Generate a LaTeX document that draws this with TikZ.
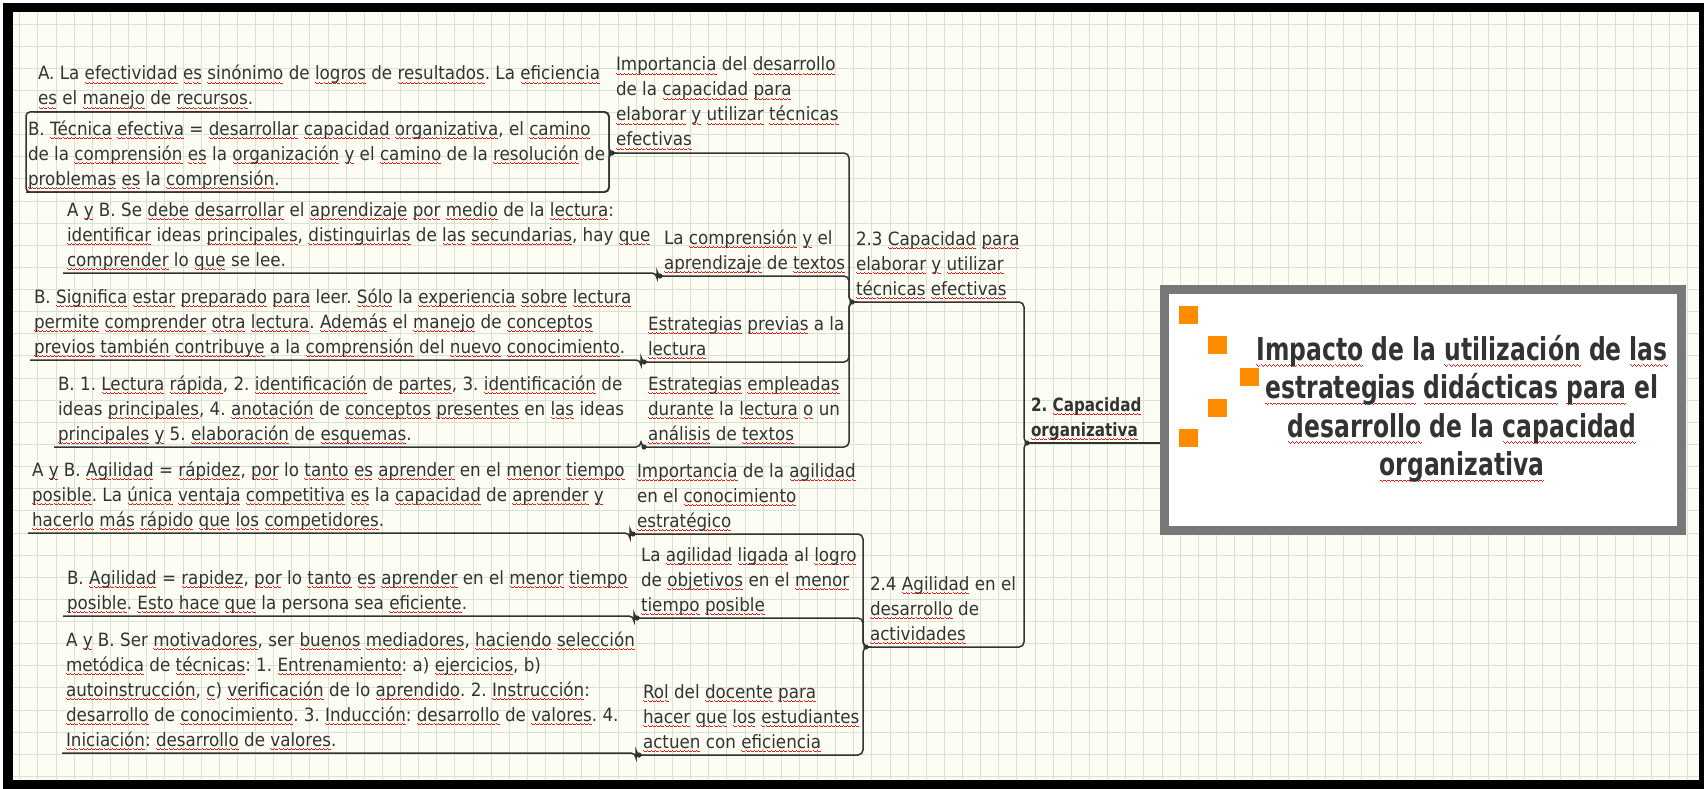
\documentclass[tikz,border=0pt]{standalone}
\usepackage{fontspec}
\setmainfont[FakeStretch=0.915]{DejaVu Sans}
\newfontfamily\capfamily[FakeStretch=0.83]{DejaVu Sans}
\newfontfamily\ttlfamily[FakeStretch=0.745]{DejaVu Sans}
\frenchspacing
\definecolor{paper}{HTML}{FDFDF3}
\definecolor{gridc}{HTML}{D8E2D8}
\definecolor{ink}{HTML}{333333}
\definecolor{framec}{HTML}{787878}
\definecolor{orng}{HTML}{FF8C00}
\definecolor{spell}{HTML}{E8201A}
\newlength\sqdrop
\setlength\sqdrop{3pt}
\newcommand\waveunit{\hbox{\rule[0pt]{1pt}{0.9pt}\rule[-0.6pt]{1pt}{0.9pt}\rule[-1.2pt]{1pt}{0.9pt}\rule[-0.6pt]{1pt}{0.9pt}}}
\newcommand\sq[1]{\setbox0\hbox{#1}\rlap{\lower\sqdrop\hbox to\wd0{\color{spell}\xleaders\waveunit\hfil}}\box0\relax}
\newcommand\ud{\rule[-7pt]{0pt}{7pt}}
\newcommand\bodyfnt{\frenchspacing\fontsize{18.3}{25}\selectfont}
\newcommand\capfnt{\frenchspacing\capfamily\bfseries\fontsize{18.3}{25}\selectfont}
\newcommand\ttlfnt{\ttlfamily\bfseries\fontsize{31.5}{38.5}\selectfont\setlength\sqdrop{5pt}}
\newcommand\tielink[2]{\draw[conn] (#1.south west) -| (#2-j) -- (#2.south west);}
\newcommand\topicdot[1]{\fill[ink] (#1.south west) circle (2.6pt);}
\begin{document}
\begin{tikzpicture}[x=1pt,y=-1pt,
  topic/.style={inner xsep=4pt, inner ysep=0pt, outer sep=0pt, anchor=south west, align=left, text=ink, font=\bodyfnt},
  captopic/.style={topic, font=\capfnt},
  conn/.style={draw=ink, line width=1.5pt, rounded corners=5pt},
  sqr/.style={fill=orng}]
\useasboundingbox (0,0) rectangle (1704,789);
% frame and paper
\fill[white] (0,0) rectangle (1704,789);
\fill[black] (3,3) rectangle (1704,789);
\fill[paper] (13,12) rectangle (1699,780);
\begin{scope}
\clip (13,12) rectangle (1699,780);
\foreach \i in {0,...,94} {\draw[gridc, line width=1pt] (1.7+\i*18.13,12) -- (1.7+\i*18.13,780);}
\foreach \j in {0,...,35} {\draw[gridc, line width=1pt] (13,1.9+\j*22.13) -- (1699,1.9+\j*22.13);}
\end{scope}

% central topic
\node[draw=framec, line width=9pt, fill=white, minimum width=517pt, minimum height=241pt,
      inner sep=0pt, outer sep=4.5pt, anchor=north west] (central) at (1160,285) {};
\fill[sqr] (1179,306) rectangle ++(19,18);
\fill[sqr] (1208,336) rectangle ++(19,18);
\fill[sqr] (1240,368) rectangle ++(19,18);
\fill[sqr] (1208,399) rectangle ++(19,18);
\fill[sqr] (1179,429) rectangle ++(19,18);
\node[inner sep=0pt, anchor=north, align=center, text=ink, font=\ttlfnt] (title) at (1462,330)
 {\rule{0pt}{30pt}\sq{Impacto} de la \sq{utilización} de \sq{las}\\
  \sq{estrategias} \sq{didácticas} \sq{para} el\\
  \sq{desarrollo} de la \sq{capacidad}\\
  \sq{organizativa}};

% main topics
\node[captopic] (cap) at (1027,443) {2. \sq{Capacidad}\\\sq{organizativa}\ud};
\node[topic] (s23) at (852,302) {2.3 \sq{Capacidad} \sq{para}\\\sq{elaborar} \sq{y} \sq{utilizar}\\\sq{técnicas} \sq{efectivas}\ud};
\node[topic] (s24) at (866,647) {2.4 \sq{Agilidad} en el\\\sq{desarrollo} de\\\sq{actividades}\ud};

\node[topic] (a) at (612,153) {\sq{Importancia} del \sq{desarrollo}\\de la \sq{capacidad} \sq{para}\\\sq{elaborar} \sq{y} \sq{utilizar} \sq{técnicas}\\\sq{efectivas}\ud};
\node[topic] (compr) at (660,276) {La \sq{comprensión} \sq{y} el\\\sq{aprendizaje} de \sq{textos}\ud};
\node[topic] (prev) at (644,362) {\sq{Estrategias} \sq{previas} a la\\\sq{lectura}\ud};
\node[topic] (dur) at (644,447) {\sq{Estrategias} \sq{empleadas}\\\sq{durante} la \sq{lectura} \sq{o} un\\\sq{análisis} de \sq{textos}\ud};
\node[topic] (impag) at (633,534) {\sq{Importancia} de la \sq{agilidad}\\en el \sq{conocimiento}\\\sq{estratégico}\ud};
\node[topic] (lig) at (637,618) {La \sq{agilidad} \sq{ligada} al \sq{logro}\\de \sq{objetivos} en el \sq{menor}\\\sq{tiempo} \sq{posible}\ud};
\node[topic] (rol) at (639,755) {\sq{Rol} del \sq{docente} \sq{para}\\\sq{hacer} \sq{que} \sq{los} \sq{estudiantes}\\\sq{actuen} con \sq{eficiencia}\ud};

% leaves
\node[topic] (lA) at (34,112) {A. La \sq{efectividad} \sq{es} \sq{sinónimo} de \sq{logros} de \sq{resultados}. La \sq{eficiencia}\\\sq{es} el \sq{manejo} de \sq{recursos}.\ud};
\node[topic, inner xsep=2pt, anchor=north west] (lB) at (26,112) {\rule{0pt}{23pt}B. \sq{Técnica} \sq{efectiva} = \sq{desarrollar} \sq{capacidad} \sq{organizativa}, el \sq{camino}\\de la \sq{comprensión} \sq{es} la \sq{organización} \sq{y} el \sq{camino} de la \sq{resolución} de\\\sq{problemas} \sq{es} la \sq{comprensión}.\ud};
\node[topic] (l3) at (63,273) {A \sq{y} B. Se \sq{debe} \sq{desarrollar} el \sq{aprendizaje} \sq{por} \sq{medio} de la \sq{lectura}:\\\sq{identificar} ideas \sq{principales}, \sq{distinguirlas} de \sq{las} \sq{secundarias}, hay \sq{que}\\\sq{comprender} lo \sq{que} se lee.\ud};
\node[topic] (l4) at (30,360) {B. \sq{Significa} \sq{estar} \sq{preparado} \sq{para} leer. \sq{Sólo} la \sq{experiencia} \sq{sobre} \sq{lectura}\\\sq{permite} \sq{comprender} \sq{otra} \sq{lectura}. \sq{Además} el \sq{manejo} de \sq{conceptos}\\\sq{previos} \sq{también} \sq{contribuye} a la \sq{comprensión} del \sq{nuevo} \sq{conocimiento}.\ud};
\node[topic] (l5) at (54,447) {B. 1. \sq{Lectura} \sq{rápida}, 2. \sq{identificación} de \sq{partes}, 3. \sq{identificación} de\\ideas \sq{principales}, 4. \sq{anotación} de \sq{conceptos} \sq{presentes} en \sq{las} ideas\\\sq{principales} \sq{y} 5. \sq{elaboración} de \sq{esquemas}.\ud};
\node[topic] (l6) at (28,533) {A \sq{y} B. \sq{Agilidad} = \sq{rápidez}, \sq{por} lo \sq{tanto} \sq{es} \sq{aprender} en el \sq{menor} \sq{tiempo}\\\sq{posible}. La \sq{única} \sq{ventaja} \sq{competitiva} \sq{es} la \sq{capacidad} de \sq{aprender} \sq{y}\\\sq{hacerlo} \sq{más} \sq{rápido} \sq{que} \sq{los} \sq{competidores}.\ud};
\node[topic] (l7) at (63,616) {B. \sq{Agilidad} = \sq{rapidez}, \sq{por} lo \sq{tanto} \sq{es} \sq{aprender} en el \sq{menor} \sq{tiempo}\\\sq{posible}. \sq{Esto} \sq{hace} \sq{que} la persona sea \sq{eficiente}.\ud};
\node[topic] (l8) at (62,753) {A \sq{y} B. Ser \sq{motivadores}, ser \sq{buenos} \sq{mediadores}, \sq{haciendo} \sq{selección}\\\sq{metódica} de \sq{técnicas}: 1. \sq{Entrenamiento}: a) \sq{ejercicios}, b)\\\sq{autoinstrucción}, \sq{c}) \sq{verificación} de lo \sq{aprendido}. 2. \sq{Instrucción}:\\\sq{desarrollo} de \sq{conocimiento}. 3. \sq{Inducción}: \sq{desarrollo} de \sq{valores}. 4.\\\sq{Iniciación}: \sq{desarrollo} de \sq{valores}.\ud};

% junctions
\foreach \n in {cap,s23,s24,a,compr,prev,dur,impag,lig,rol}
  {\coordinate (\n-j) at ([xshift=-3pt]\n.south west);}

% connectors
\draw[conn] (cap.south west) -- (cap.south west -| central.west);
\tielink{s23}{cap}
\tielink{s24}{cap}
\tielink{a}{s23}
\tielink{compr}{s23}
\tielink{prev}{s23}
\tielink{dur}{s23}
\tielink{impag}{s24}
\tielink{lig}{s24}
\tielink{rol}{s24}
\draw[conn, rounded corners=4pt] (lB.north west) rectangle (a-j |- lB.south);
\tielink{lA}{a}
\tielink{lB}{a}
\tielink{l3}{compr}
\tielink{l4}{prev}
\tielink{l5}{dur}
\tielink{l6}{impag}
\tielink{l7}{lig}
\tielink{l8}{rol}
\foreach \n in {cap,s23,s24,a,compr,prev,dur,impag,lig,rol} {\topicdot{\n}}
\end{tikzpicture}
\end{document}
